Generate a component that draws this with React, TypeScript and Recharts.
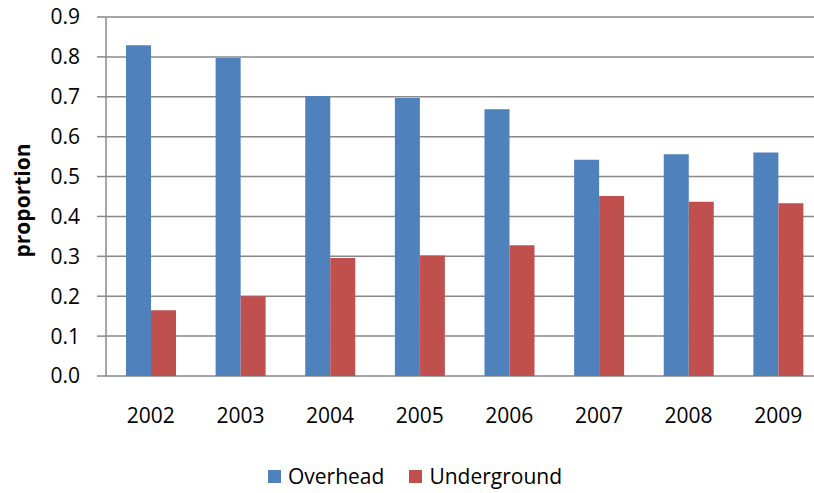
import React from "react";
import { BarChart, Bar, XAxis, YAxis, CartesianGrid } from "recharts";

// Share of incidents by installation type, per year
const years = ["2002", "2003", "2004", "2005", "2006", "2007", "2008", "2009"];
const overhead = [0.829, 0.797, 0.702, 0.697, 0.669, 0.542, 0.556, 0.560];
const underground = [0.165, 0.2, 0.296, 0.302, 0.328, 0.451, 0.437, 0.433];
const yTicks = [0, 0.1, 0.2, 0.3, 0.4, 0.5, 0.6, 0.7, 0.8, 0.9];

const series = [
  { key: "overhead", name: "Overhead", color: "#4F81BD" },
  { key: "underground", name: "Underground", color: "#C0504D" },
];

const data = years.map((year, i) => ({
  year,
  overhead: overhead[i],
  underground: underground[i],
}));

// tick marks sit on the category boundaries, 0..n
const boundaryTicks = years.map((_, i) => i).concat(years.length);

const FONT = "'Open Sans', sans-serif";
const AXIS = "#888888";

const YLabel = (props: any) => {
  const vb = props.viewBox || {};
  const cx = (vb.x ?? 0) + 22;
  const cy = (vb.y ?? 0) + (vb.height ?? 0) / 2 + 4;
  return (
    <text
      x={cx}
      y={cy}
      transform={`rotate(-90, ${cx}, ${cy})`}
      textAnchor="middle"
      dominantBaseline="central"
      fontFamily={FONT}
      fontWeight="bold"
      fontSize={21}
      fill="#000"
    >
      proportion
    </text>
  );
};

export default function App() {
  return (
    <div
      style={{
        position: "absolute",
        left: 0,
        top: 0,
        width: 814,
        height: 493,
        overflow: "hidden",
        background: "#fff",
      }}
    >
      <BarChart
        width={830}
        height={493}
        data={data}
        margin={{ top: 17, right: 7, bottom: 57, left: 0 }}
        barCategoryGap="21%"
        barGap={0}
      >
        <CartesianGrid
          vertical={false}
          stroke={AXIS}
          strokeWidth={1.5}
        />
        <XAxis
          xAxisId="bounds"
          type="number"
          domain={[0, years.length]}
          ticks={boundaryTicks}
          tick={false}
          tickSize={7}
          height={0}
          stroke={AXIS}
          axisLine={{ stroke: AXIS, strokeWidth: 1.5 }}
          tickLine={{ stroke: AXIS, strokeWidth: 1.5 }}
        />
        <XAxis
          dataKey="year"
          axisLine={false}
          tickLine={false}
          tickSize={0}
          tickMargin={32}
          height={60}
          interval={0}
          tick={{ fontFamily: FONT, fontSize: 21, fill: "#000" }}
        />
        <YAxis
          width={106}
          domain={[0, 0.9]}
          ticks={yTicks}
          interval={0}
          tickFormatter={(v: number) => v.toFixed(1)}
          tickSize={9}
          tickMargin={17}
          axisLine={{ stroke: AXIS, strokeWidth: 1.5 }}
          tickLine={{ stroke: AXIS, strokeWidth: 1.5 }}
          tick={{ fontFamily: FONT, fontSize: 21, fill: "#000" }}
          label={<YLabel />}
        />
        {series.map((s) => (
          <Bar
            key={s.key}
            dataKey={s.key}
            name={s.name}
            fill={s.color}
            barSize={25}
            isAnimationActive={false}
          />
        ))}
      </BarChart>
      <div
        style={{
          position: "absolute",
          left: 268,
          top: 462,
          display: "flex",
          alignItems: "center",
          fontFamily: FONT,
          fontSize: 21,
          color: "#000",
          lineHeight: "28px",
        }}
      >
        {series.map((s, i) => (
          <div
            key={s.key}
            style={{
              display: "flex",
              alignItems: "center",
              marginLeft: i === 0 ? 0 : 25,
            }}
          >
            <span
              style={{
                display: "inline-block",
                width: 13,
                height: 13,
                background: s.color,
                marginRight: 7,
              }}
            />
            <span>{s.name}</span>
          </div>
        ))}
      </div>
    </div>
  );
}
